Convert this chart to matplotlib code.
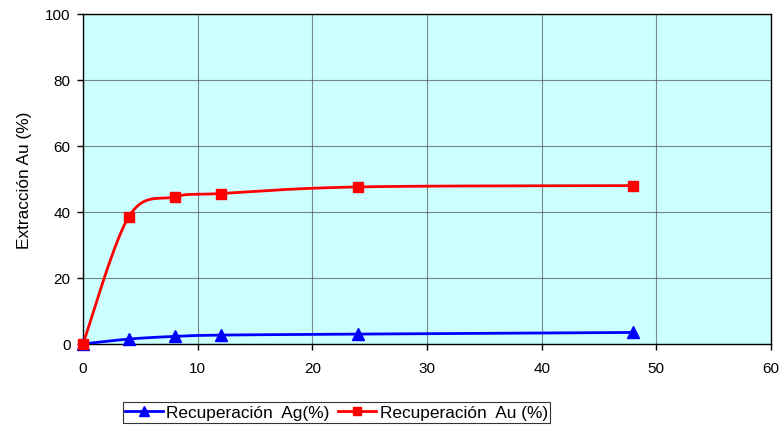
import numpy as np
import matplotlib
matplotlib.use("Agg")
import matplotlib.pyplot as plt

plt.rcParams['font.family'] = ['Liberation Sans', 'DejaVu Sans']

tiempo = [0, 4, 8, 12, 24, 48]
rec_ag = [0, 1.5, 2.3, 2.7, 3.0, 3.5]
rec_au = [0, 38.6, 44.6, 45.6, 47.6, 48.0]
x_ticks = [0, 10, 20, 30, 40, 50, 60]
y_ticks = [0, 20, 40, 60, 80, 100]


def excel_smooth(x, y, sx, sy, n=40):
    """Excel-like smoothed line: cubic Bezier with Catmull-Rom tangents (in scaled space)."""
    P = np.column_stack([np.asarray(x, float) * sx, np.asarray(y, float) * sy])
    out = []
    for i in range(len(P) - 1):
        p0 = P[i - 1] if i > 0 else P[i]
        p1 = P[i]
        p2 = P[i + 1]
        p3 = P[i + 2] if i + 2 < len(P) else P[i + 1]
        c1 = p1 + (p2 - p0) / 6.0
        c2 = p2 - (p3 - p1) / 6.0
        t = np.linspace(0, 1, n)[:, None]
        seg = ((1 - t) ** 3) * p1 + 3 * ((1 - t) ** 2) * t * c1 + 3 * (1 - t) * t ** 2 * c2 + t ** 3 * p2
        out.append(seg if i == 0 else seg[1:])
    S = np.vstack(out)
    return S[:, 0] / sx, S[:, 1] / sy


fig = plt.figure(figsize=(7.82, 4.27), dpi=100)
ax = fig.add_axes([83 / 782, 1 - 345 / 427, (771 - 83) / 782, (345 - 15) / 427])
ax.set_facecolor('#CCFFFF')

sx = 688 / 60.0
sy = 330 / 100.0

for yv, col, mk, ms, lab in [(rec_ag, '#0000FF', '^', 8, 'Recuperación  Ag(%)'),
                             (rec_au, '#FF0000', 's', 7, 'Recuperación  Au (%)')]:
    xs, ys = excel_smooth(tiempo, yv, sx, sy)
    ax.plot(xs, ys, color=col, lw=2.0, zorder=3)
    ax.plot(tiempo, yv, linestyle='none', marker=mk, ms=ms, color=col, zorder=4, clip_on=False)
    ax.plot([], [], color=col, lw=2.0, marker=mk, ms=ms, label=lab)

ax.set_xlim(0, 60)
ax.set_ylim(0, 100)
ax.set_xticks(x_ticks)
ax.set_yticks(y_ticks)
ax.grid(True, color='#555555', lw=0.8, linestyle='-', alpha=0.7)
ax.set_axisbelow(True)
for s in ax.spines.values():
    s.set_color('black')
    s.set_linewidth(1.0)
ax.tick_params(direction='out', length=4, width=1, labelsize=11, colors='black', pad=5)
ax.tick_params(axis='x', pad=8)
ax.set_ylabel('Extracción Au (%)', fontsize=12.4, labelpad=9)

leg = fig.legend(loc='center', bbox_to_anchor=(336.5 / 782, 1 - 413.5 / 427), ncol=2,
                 fontsize=12.4, frameon=True, fancybox=False, edgecolor='black',
                 handlelength=2.2, handletextpad=0.2, columnspacing=0.5,
                 borderpad=0.15, markerscale=0.9)
leg.get_frame().set_linewidth(0.8)

fig.savefig('out.png', dpi=100, facecolor='white')
